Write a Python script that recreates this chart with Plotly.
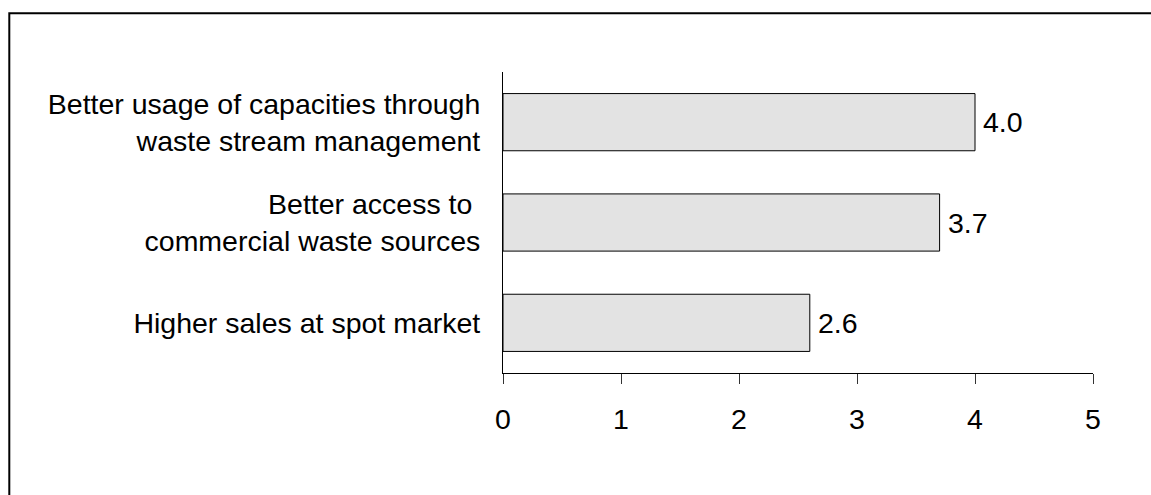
import plotly.graph_objects as go

# Survey results: mean rating per expected benefit
categories = [
    "Better usage of capacities through<br>waste stream management",
    "Better access to\u00a0<br>commercial waste sources",
    "Higher sales at spot market",
]
values = [4.0, 3.7, 2.6]
x_ticks = [0, 1, 2, 3, 4, 5]

W, H = 1151, 495
M_L, M_R, M_T, M_B = 503, 58, 72, 122
PW, PH = W - M_L - M_R, H - M_T - M_B

FONT = "Liberation Sans, Arial, sans-serif"
FS = 28.5

fig = go.Figure(
    go.Bar(
        x=values,
        y=categories,
        orientation="h",
        width=0.57,
        marker=dict(color="#e3e3e3", line=dict(color="#000000", width=1)),
        hoverinfo="x+y",
    )
)

# value labels just right of each bar end
for c, v in zip(categories, values):
    fig.add_annotation(
        x=v, y=c, text=f"{v:.1f}", showarrow=False,
        xanchor="left", yanchor="middle", xshift=6,
        font=dict(family=FONT, size=FS, color="#000000"),
    )

# frame along the top and left edges of the figure
def px_to_paper(px, py):
    return (px - M_L) / PW, (H - M_B - py) / PH

x0, y0 = px_to_paper(9.3, H + 2)
x1, y1 = px_to_paper(9.3, 13.3)
x2, y2 = px_to_paper(W + 2, 13.3)
fig.add_shape(
    type="path", xref="paper", yref="paper",
    path=f"M {x0} {y0} L {x1} {y1} L {x2} {y2}",
    line=dict(color="#000000", width=2),
)

fig.update_layout(
    width=W, height=H,
    margin=dict(l=M_L, r=M_R, t=M_T, b=M_B, pad=0),
    paper_bgcolor="#ffffff", plot_bgcolor="#ffffff",
    font=dict(family=FONT, size=FS, color="#000000"),
    showlegend=False,
    xaxis=dict(
        range=[0, 5], tickvals=x_ticks, ticktext=[str(t) for t in x_ticks],
        showgrid=False, zeroline=False,
        showline=True, linecolor="#000000", linewidth=1,
        ticks="outside", ticklen=10, tickwidth=1, tickcolor="#333333",
        ticklabelstandoff=11,
        tickfont=dict(family=FONT, size=FS, color="#000000"),
    ),
    yaxis=dict(
        categoryorder="array", categoryarray=categories,
        autorange="reversed",
        showgrid=False, zeroline=False,
        showline=True, linecolor="#000000", linewidth=1,
        ticks="", ticklabelstandoff=16,
        tickfont=dict(family=FONT, size=FS, color="#000000"),
    ),
)

fig.write_html("out.html")
